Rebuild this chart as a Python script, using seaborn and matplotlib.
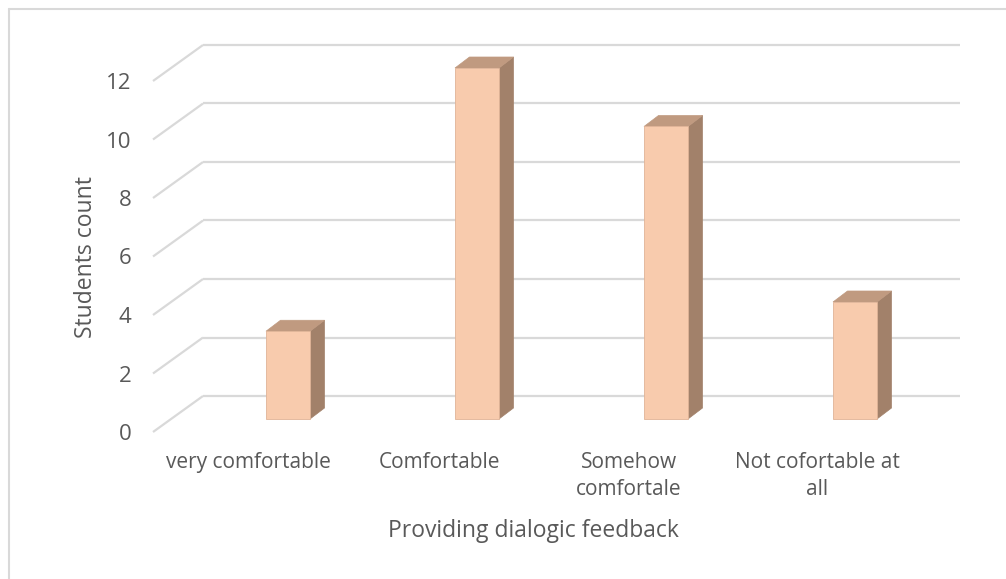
import matplotlib
matplotlib.use("Agg")
import matplotlib.pyplot as plt
from matplotlib.patches import Polygon
import seaborn as sns
import pandas as pd

# Survey responses
categories = ["very comfortable", "Comfortable", "Somehow comfortale", "Not cofortable at all"]
tick_labels = ["very comfortable", "Comfortable", "Somehow\ncomfortale", "Not cofortable at\nall"]
counts = [3, 12, 10, 4]
y_ticks = [0, 2, 4, 6, 8, 10, 12]

sns.set_theme(style="white")
plt.rcParams["font.family"] = ["Open Sans", "DejaVu Sans"]

TEXT = "#595959"
GRID = "#D9D9D9"
FRONT = "#F8CBAD"
SIDE = "#A2816A"
TOP = "#C09A80"

W, H = 1006, 579
fig = plt.figure(figsize=(W / 100, H / 100), dpi=100)

# axes area in pixels (left, top, right, bottom)
px_l, px_t, px_r, px_b = 140, 30, 970, 470
ax = fig.add_axes([px_l / W, 1 - px_b / H, (px_r - px_l) / W, (px_b - px_t) / H])

# pixel scale of one category step and one count unit
cat_px = 189.0
unit_px = 29.25
x0_px, y0_px = 288.0, 419.0

# perspective offsets of the grid walls (in data units)
front_dx, front_dy = (153 - x0_px) / cat_px, -13 / unit_px
back_dx, back_dy = (203 - x0_px) / cat_px, 23 / unit_px
wall_end = (960 - x0_px) / cat_px
for k in y_ticks:
    ax.plot([front_dx, back_dx], [k + front_dy, k + back_dy], color=GRID, lw=1.6,
            solid_capstyle="butt", zorder=1)
    ax.plot([back_dx, wall_end], [k + back_dy, k + back_dy], color=GRID, lw=1.6,
            solid_capstyle="butt", zorder=1)

df = pd.DataFrame({"category": categories, "count": counts})
bar_w = 44 / cat_px
sns.barplot(data=df, x="category", y="count", ax=ax, color=FRONT, width=bar_w,
            saturation=1, edgecolor="#E0B497", linewidth=0.6, zorder=3)

# depth faces of each bar
ddx, ddy = 14.5 / cat_px, 11 / unit_px
for p in ax.patches:
    x, w, h = p.get_x(), p.get_width(), p.get_height()
    side = [(x + w, 0), (x + w + ddx, ddy), (x + w + ddx, h + ddy), (x + w, h)]
    top = [(x, h), (x + ddx, h + ddy), (x + w + ddx, h + ddy), (x + w, h)]
    ax.add_patch(Polygon(side, closed=True, facecolor=SIDE, edgecolor=SIDE, lw=0.5, zorder=2.9))
    ax.add_patch(Polygon(top, closed=True, facecolor=TOP, edgecolor=TOP, lw=0.5, zorder=2.9))

ax.set_xlim((px_l - x0_px) / cat_px, (px_r - x0_px) / cat_px)
ax.set_ylim((y0_px - px_b) / unit_px, (y0_px - px_t) / unit_px)

for s in ax.spines.values():
    s.set_visible(False)
ax.grid(False)

ax.set_yticks([k + front_dy for k in y_ticks])
ax.set_yticklabels([str(k) for k in y_ticks], fontsize=16, color=TEXT)
ax.tick_params(axis="y", length=0, pad=6)
ax.set_xticks([])
ax.set_xlabel("")
ax.set_ylabel("")

# category labels
label_x = [248, 439, 629, 817]
for lx, lab in zip(label_x, tick_labels):
    fig.text(lx / W, 1 - 452 / H, lab, ha="center", va="top", fontsize=15,
             color=TEXT, linespacing=1.35)

fig.text(533 / W, 1 - 531 / H, "Providing dialogic feedback", ha="center", va="center",
         fontsize=16.5, color=TEXT)
fig.text(86 / W, 1 - 257 / H, "Students count", ha="center", va="center",
         rotation=90, fontsize=16.5, color=TEXT)

# chart frame
fig.add_artist(plt.Line2D([8.5 / W, 1], [1 - 8.5 / H, 1 - 8.5 / H], color="#D9D9D9",
                          lw=1.5, transform=fig.transFigure))
fig.add_artist(plt.Line2D([8.5 / W, 8.5 / W], [1 - 8.5 / H, 0], color="#D9D9D9",
                          lw=1.5, transform=fig.transFigure))

fig.savefig("out.png", dpi=100, facecolor="white")
